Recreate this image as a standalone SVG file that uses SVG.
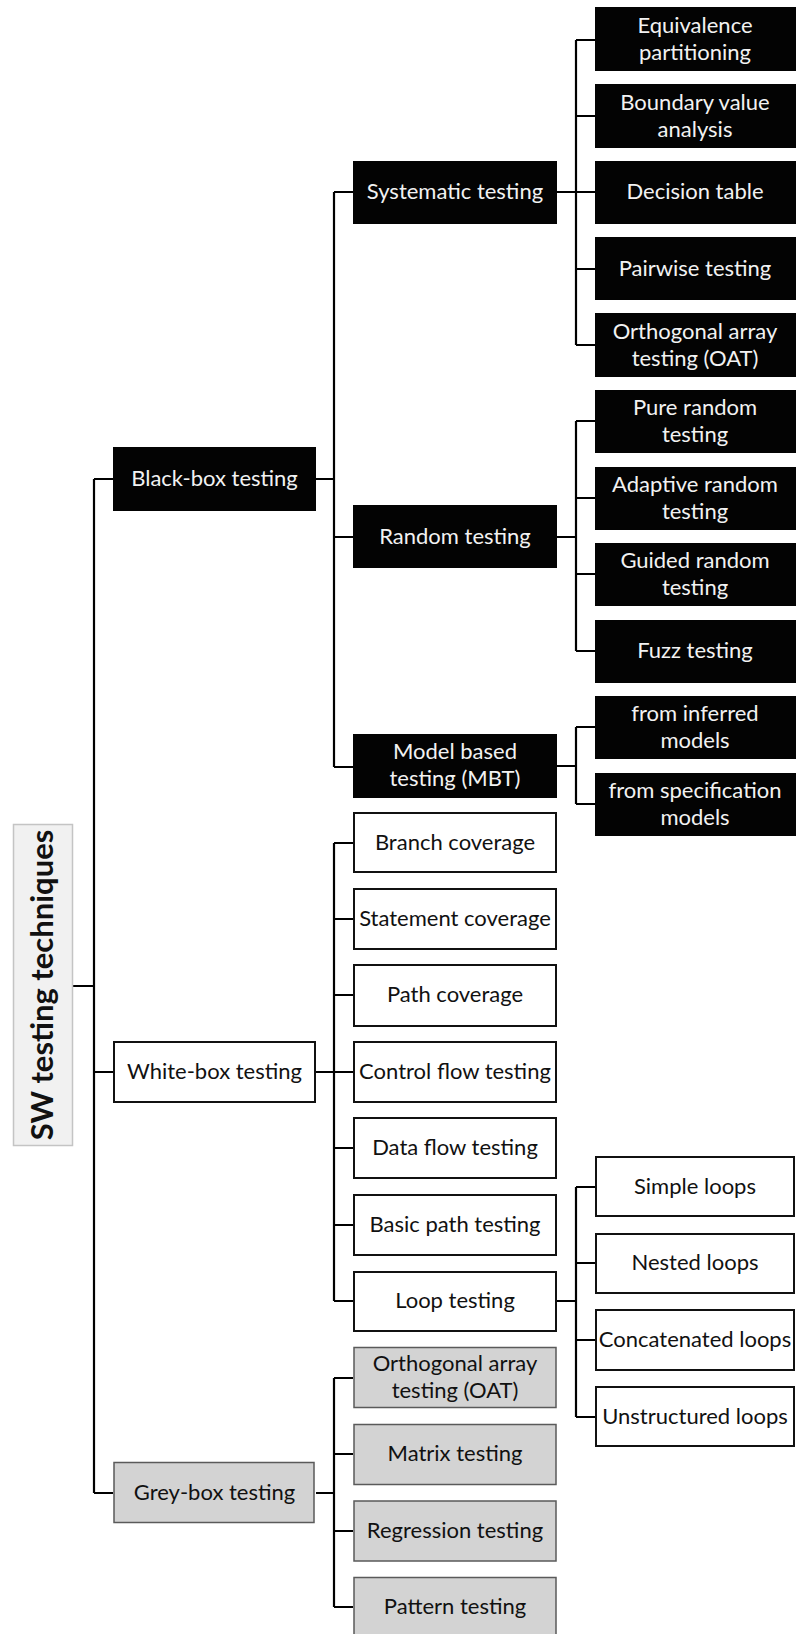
<svg xmlns="http://www.w3.org/2000/svg" width="796" height="1634" viewBox="0 0 796 1634">
  <style>
    .blk { fill: #030303; }
    .wht { fill: #ffffff; stroke: #111111; stroke-width: 2; }
    .gry { fill: #d3d3d3; stroke: #5a5a5a; stroke-width: 1.5; }
    .root { fill: #f1f1f1; stroke: #c4c4c4; stroke-width: 1.5; }
    text { font-family: Lato, "Open Sans", "Liberation Sans", sans-serif; font-size: 22px; text-anchor: middle; }
    .tw { fill: #f2f2f2; }
    .tk { fill: #111111; }
    .title { font-size: 31px; font-weight: bold; fill: #111111; }
    #connectors path { fill: none; stroke: #000000; stroke-width: 2.2; }
  </style>

  <!-- tree connectors -->
  <g id="connectors">
    <!-- root to top-level categories -->
    <path d="M73 986 H94 M94 479 V1493 M94 479 H113 M94 1072 H113 M94 1493 H113"/>
    <!-- black-box branch -->
    <path d="M316 479 H334 M334 192 V767 M334 192 H353 M334 537 H353 M334 767 H353"/>
    <!-- systematic testing -->
    <path d="M557 192 H576 M576 40 V345 M576 40 H595 M576 116 H595 M576 192 H595 M576 269 H595 M576 345 H595"/>
    <!-- random testing -->
    <path d="M557 537 H576 M576 421 V651 M576 421 H595 M576 498 H595 M576 574 H595 M576 651 H595"/>
    <!-- model based testing -->
    <path d="M557 766 H576 M576 727 V804 M576 727 H595 M576 804 H595"/>
    <!-- white-box branch -->
    <path d="M316 1072 H334 M334 843 V1301 M334 843 H353 M334 919 H353 M334 995 H353 M334 1072 H353 M334 1148 H353 M334 1225 H353 M334 1301 H353"/>
    <!-- loop testing -->
    <path d="M557 1301 H576 M576 1187 V1417 M576 1187 H595 M576 1263 H595 M576 1340 H595 M576 1417 H595"/>
    <!-- grey-box branch -->
    <path d="M316 1493 H334 M334 1378 V1607 M334 1378 H353 M334 1454 H353 M334 1531 H353 M334 1607 H353"/>
  </g>

  <!-- root -->
  <g id="root">
    <rect class="root" x="13.5" y="824.5" width="59" height="321"/>
    <text class="title" transform="translate(53 985) rotate(-90)">SW testing techniques</text>
  </g>

  <!-- level 1 -->
  <g id="black-box">
    <rect class="blk" x="113" y="447" width="203" height="64"/>
    <text class="tw" x="214.5" y="486">Black-box testing</text>
  </g>
  <g id="white-box">
    <rect class="wht" x="114" y="1042" width="201" height="60"/>
    <text class="tk" x="214.5" y="1079">White-box testing</text>
  </g>
  <g id="grey-box">
    <rect class="gry" x="114" y="1462.5" width="200" height="60"/>
    <text class="tk" x="214.5" y="1500">Grey-box testing</text>
  </g>

  <!-- black-box techniques -->
  <g id="systematic">
    <rect class="blk" x="353" y="161" width="204" height="63"/>
    <text class="tw" x="455" y="199">Systematic testing</text>
  </g>
  <g id="random">
    <rect class="blk" x="353" y="505" width="204" height="63"/>
    <text class="tw" x="455" y="544">Random testing</text>
  </g>
  <g id="mbt">
    <rect class="blk" x="353" y="734" width="204" height="64"/>
    <text class="tw" x="455" y="759">Model based</text>
    <text class="tw" x="455" y="786">testing (MBT)</text>
  </g>

  <!-- systematic testing leaves -->
  <g id="equivalence">
    <rect class="blk" x="595" y="7" width="201" height="64"/>
    <text class="tw" x="695" y="33">Equivalence</text>
    <text class="tw" x="695" y="60">partitioning</text>
  </g>
  <g id="boundary">
    <rect class="blk" x="595" y="84" width="201" height="64"/>
    <text class="tw" x="695" y="110">Boundary value</text>
    <text class="tw" x="695" y="137">analysis</text>
  </g>
  <g id="decision">
    <rect class="blk" x="595" y="161" width="201" height="63"/>
    <text class="tw" x="695" y="199">Decision table</text>
  </g>
  <g id="pairwise">
    <rect class="blk" x="595" y="237" width="201" height="63"/>
    <text class="tw" x="695" y="276">Pairwise testing</text>
  </g>
  <g id="oat-black">
    <rect class="blk" x="595" y="313" width="201" height="64"/>
    <text class="tw" x="695" y="339">Orthogonal array</text>
    <text class="tw" x="695" y="366">testing (OAT)</text>
  </g>

  <!-- random testing leaves -->
  <g id="pure-random">
    <rect class="blk" x="595" y="390" width="201" height="63"/>
    <text class="tw" x="695" y="415">Pure random</text>
    <text class="tw" x="695" y="442">testing</text>
  </g>
  <g id="adaptive-random">
    <rect class="blk" x="595" y="467" width="201" height="63"/>
    <text class="tw" x="695" y="492">Adaptive random</text>
    <text class="tw" x="695" y="519">testing</text>
  </g>
  <g id="guided-random">
    <rect class="blk" x="595" y="543" width="201" height="63"/>
    <text class="tw" x="695" y="568">Guided random</text>
    <text class="tw" x="695" y="595">testing</text>
  </g>
  <g id="fuzz">
    <rect class="blk" x="595" y="620" width="201" height="63"/>
    <text class="tw" x="695" y="658">Fuzz testing</text>
  </g>

  <!-- model based testing leaves -->
  <g id="inferred">
    <rect class="blk" x="595" y="696" width="201" height="63"/>
    <text class="tw" x="695" y="721">from inferred</text>
    <text class="tw" x="695" y="748">models</text>
  </g>
  <g id="specification">
    <rect class="blk" x="595" y="773" width="201" height="63"/>
    <text class="tw" x="695" y="798">from specification</text>
    <text class="tw" x="695" y="825">models</text>
  </g>

  <!-- white-box techniques -->
  <g id="branch">
    <rect class="wht" x="354" y="813" width="202" height="59"/>
    <text class="tk" x="455" y="850">Branch coverage</text>
  </g>
  <g id="statement">
    <rect class="wht" x="354" y="889" width="202" height="60"/>
    <text class="tk" x="455" y="926">Statement coverage</text>
  </g>
  <g id="path">
    <rect class="wht" x="354" y="965" width="202" height="61"/>
    <text class="tk" x="455" y="1002">Path coverage</text>
  </g>
  <g id="control-flow">
    <rect class="wht" x="354" y="1042" width="202" height="60"/>
    <text class="tk" x="455" y="1079">Control flow testing</text>
  </g>
  <g id="data-flow">
    <rect class="wht" x="354" y="1118" width="202" height="60"/>
    <text class="tk" x="455" y="1155">Data flow testing</text>
  </g>
  <g id="basic-path">
    <rect class="wht" x="354" y="1195" width="202" height="60"/>
    <text class="tk" x="455" y="1232">Basic path testing</text>
  </g>
  <g id="loop">
    <rect class="wht" x="354" y="1272" width="202" height="59"/>
    <text class="tk" x="455" y="1308">Loop testing</text>
  </g>

  <!-- loop testing leaves -->
  <g id="simple-loops">
    <rect class="wht" x="596" y="1157" width="198" height="59"/>
    <text class="tk" x="695" y="1194">Simple loops</text>
  </g>
  <g id="nested-loops">
    <rect class="wht" x="596" y="1234" width="198" height="59"/>
    <text class="tk" x="695" y="1270">Nested loops</text>
  </g>
  <g id="concatenated-loops">
    <rect class="wht" x="596" y="1310" width="198" height="60"/>
    <text class="tk" x="695" y="1347">Concatenated loops</text>
  </g>
  <g id="unstructured-loops">
    <rect class="wht" x="596" y="1387" width="198" height="59"/>
    <text class="tk" x="695" y="1424">Unstructured loops</text>
  </g>

  <!-- grey-box techniques -->
  <g id="oat-grey">
    <rect class="gry" x="354" y="1347.5" width="202" height="60"/>
    <text class="tk" x="455" y="1371">Orthogonal array</text>
    <text class="tk" x="455" y="1398">testing (OAT)</text>
  </g>
  <g id="matrix">
    <rect class="gry" x="354" y="1424.5" width="202" height="60"/>
    <text class="tk" x="455" y="1461">Matrix testing</text>
  </g>
  <g id="regression">
    <rect class="gry" x="354" y="1501" width="202" height="60"/>
    <text class="tk" x="455" y="1538">Regression testing</text>
  </g>
  <g id="pattern">
    <rect class="gry" x="354" y="1577.5" width="202" height="60"/>
    <text class="tk" x="455" y="1614">Pattern testing</text>
  </g>
</svg>
